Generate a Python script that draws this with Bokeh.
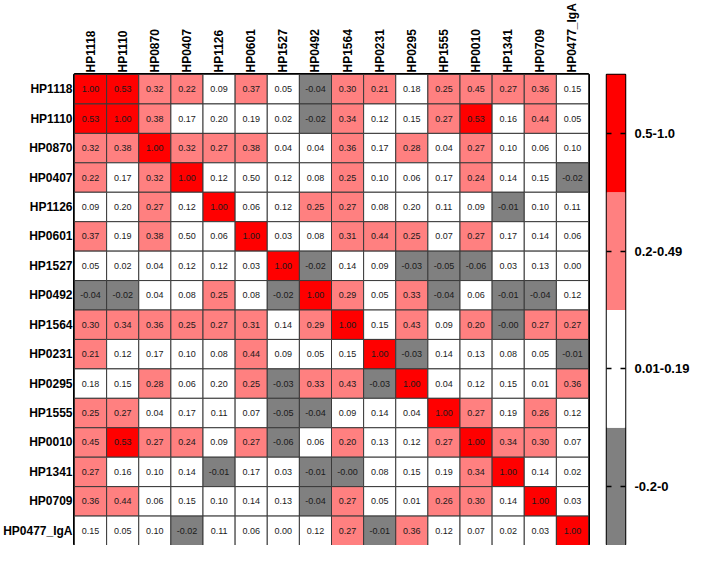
import math
from bokeh.plotting import figure
from bokeh.models import ColumnDataSource, FactorRange, Range1d, LinearAxis, FixedTicker
from bokeh.layouts import row
from bokeh.embed import file_html
from bokeh.resources import INLINE
from bokeh.core.properties import value

names = ["HP1118", "HP1110", "HP0870", "HP0407", "HP1126", "HP0601", "HP1527", "HP0492",
         "HP1564", "HP0231", "HP0295", "HP1555", "HP0010", "HP1341", "HP0709", "HP0477_IgA"]

r_HP1118 = [1.00, 0.53, 0.32, 0.22, 0.09, 0.37, 0.05, -0.04, 0.30, 0.21, 0.18, 0.25, 0.45, 0.27, 0.36, 0.15]
r_HP1110 = [0.53, 1.00, 0.38, 0.17, 0.20, 0.19, 0.02, -0.02, 0.34, 0.12, 0.15, 0.27, 0.53, 0.16, 0.44, 0.05]
r_HP0870 = [0.32, 0.38, 1.00, 0.32, 0.27, 0.38, 0.04, 0.04, 0.36, 0.17, 0.28, 0.04, 0.27, 0.10, 0.06, 0.10]
r_HP0407 = [0.22, 0.17, 0.32, 1.00, 0.12, 0.50, 0.12, 0.08, 0.25, 0.10, 0.06, 0.17, 0.24, 0.14, 0.15, -0.02]
r_HP1126 = [0.09, 0.20, 0.27, 0.12, 1.00, 0.06, 0.12, 0.25, 0.27, 0.08, 0.20, 0.11, 0.09, -0.01, 0.10, 0.11]
r_HP0601 = [0.37, 0.19, 0.38, 0.50, 0.06, 1.00, 0.03, 0.08, 0.31, 0.44, 0.25, 0.07, 0.27, 0.17, 0.14, 0.06]
r_HP1527 = [0.05, 0.02, 0.04, 0.12, 0.12, 0.03, 1.00, -0.02, 0.14, 0.09, -0.03, -0.05, -0.06, 0.03, 0.13, 0.00]
r_HP0492 = [-0.04, -0.02, 0.04, 0.08, 0.25, 0.08, -0.02, 1.00, 0.29, 0.05, 0.33, -0.04, 0.06, -0.01, -0.04, 0.12]
r_HP1564 = [0.30, 0.34, 0.36, 0.25, 0.27, 0.31, 0.14, 0.29, 1.00, 0.15, 0.43, 0.09, 0.20, -0.0, 0.27, 0.27]
r_HP0231 = [0.21, 0.12, 0.17, 0.10, 0.08, 0.44, 0.09, 0.05, 0.15, 1.00, -0.03, 0.14, 0.13, 0.08, 0.05, -0.01]
r_HP0295 = [0.18, 0.15, 0.28, 0.06, 0.20, 0.25, -0.03, 0.33, 0.43, -0.03, 1.00, 0.04, 0.12, 0.15, 0.01, 0.36]
r_HP1555 = [0.25, 0.27, 0.04, 0.17, 0.11, 0.07, -0.05, -0.04, 0.09, 0.14, 0.04, 1.00, 0.27, 0.19, 0.26, 0.12]
r_HP0010 = [0.45, 0.53, 0.27, 0.24, 0.09, 0.27, -0.06, 0.06, 0.20, 0.13, 0.12, 0.27, 1.00, 0.34, 0.30, 0.07]
r_HP1341 = [0.27, 0.16, 0.10, 0.14, -0.01, 0.17, 0.03, -0.01, -0.0, 0.08, 0.15, 0.19, 0.34, 1.00, 0.14, 0.02]
r_HP0709 = [0.36, 0.44, 0.06, 0.15, 0.10, 0.14, 0.13, -0.04, 0.27, 0.05, 0.01, 0.26, 0.30, 0.14, 1.00, 0.03]
r_HP0477 = [0.15, 0.05, 0.10, -0.02, 0.11, 0.06, 0.00, 0.12, 0.27, -0.01, 0.36, 0.12, 0.07, 0.02, 0.03, 1.00]

matrix = [r_HP1118, r_HP1110, r_HP0870, r_HP0407, r_HP1126, r_HP0601, r_HP1527, r_HP0492,
          r_HP1564, r_HP0231, r_HP0295, r_HP1555, r_HP0010, r_HP1341, r_HP0709, r_HP0477]

legend_labels = ["-0.2-0", "0.01-0.19", "0.2-0.49", "0.5-1.0"]
palette = ["#808080", "#FFFFFF", "#FF8080", "#FF0000"]

# cells drawn white in the picture although the rule would colour them
white_cells = [("HP1110", "HP1126"), ("HP1126", "HP1110"), ("HP1126", "HP0295"),
               ("HP0295", "HP1126"), ("HP0407", "HP0601"), ("HP0601", "HP0407")]


def level(v, a, b):
    if (a, b) in white_cells:
        return 1
    if math.copysign(1.0, v) < 0:
        return 0
    if v < 0.2:
        return 1
    if v < 0.5:
        return 2
    return 3


rows, cols, labels, colors = [], [], [], []
for i, a in enumerate(names):
    for j, b in enumerate(names):
        v = matrix[i][j]
        rows.append(a)
        cols.append(b)
        labels.append(f"{v:.2f}")
        colors.append(palette[level(v, a, b)])

src = ColumnDataSource(dict(row=rows, col=cols, label=labels, color=colors))

FONT = "Liberation Sans"
TOP, BOTTOM = 70, 0

p = figure(width=600, height=545,
           x_range=FactorRange(factors=names),
           y_range=FactorRange(factors=list(reversed(names))),
           x_axis_location="above",
           output_backend="svg", toolbar_location=None,
           min_border_left=72, min_border_right=12,
           min_border_top=TOP, min_border_bottom=BOTTOM)

p.rect(x="col", y="row", width=1, height=1, source=src,
       fill_color="color", line_color="#3a3a3a", line_width=1)
p.text(x="col", y="row", text="label", source=src,
       text_align="center", text_baseline="middle",
       text_font=value(FONT), text_font_size="9px", text_color="#1a1a1a")

p.grid.visible = False
p.outline_line_color = "black"
p.outline_line_width = 3
p.background_fill_color = "white"
p.border_fill_color = "white"
p.xaxis.major_label_orientation = "vertical"
for ax in p.axis:
    ax.axis_line_color = None
    ax.major_tick_line_color = None
    ax.minor_tick_line_color = None
    ax.major_tick_out = 0
    ax.major_tick_in = 0
    ax.major_label_text_font = FONT
    ax.major_label_text_font_style = "bold"
    ax.major_label_text_font_size = "12px"
    ax.major_label_text_color = "black"
    ax.major_label_standoff = 2

# colour bar
lv = [0, 1, 2, 3]
p2 = figure(width=92, height=545, x_range=Range1d(0, 1), y_range=Range1d(0, 4),
            x_axis_location=None, y_axis_location=None,
            output_backend="svg", toolbar_location=None,
            min_border_left=6, min_border_right=10,
            min_border_top=TOP, min_border_bottom=BOTTOM)
p2.quad(left=0, right=1, bottom=lv, top=[v + 1 for v in lv],
        fill_color=palette, line_color=None)
p2.grid.visible = False
p2.outline_line_color = "black"
p2.outline_line_width = 1.5
p2.border_fill_color = "white"

ticks = [v + 0.5 for v in lv]
right_ax = LinearAxis(ticker=FixedTicker(ticks=ticks),
                      major_label_overrides={t: l for t, l in zip(ticks, legend_labels)})
left_ax = LinearAxis(ticker=FixedTicker(ticks=ticks),
                     major_label_overrides={t: "" for t in ticks})
for ax in (right_ax, left_ax):
    ax.axis_line_color = None
    ax.major_tick_in = 5
    ax.major_tick_out = 0
    ax.major_tick_line_color = "black"
    ax.major_tick_line_width = 1.5
    ax.minor_tick_line_color = None
    ax.major_label_text_font = FONT
    ax.major_label_text_font_style = "bold"
    ax.major_label_text_font_size = "13px"
    ax.major_label_text_color = "black"
right_ax.major_label_standoff = 9
left_ax.major_label_standoff = 0
p2.add_layout(right_ax, "right")
p2.add_layout(left_ax, "left")

layout = row(p, p2)
open("out.html", "w").write(file_html(layout, INLINE))
